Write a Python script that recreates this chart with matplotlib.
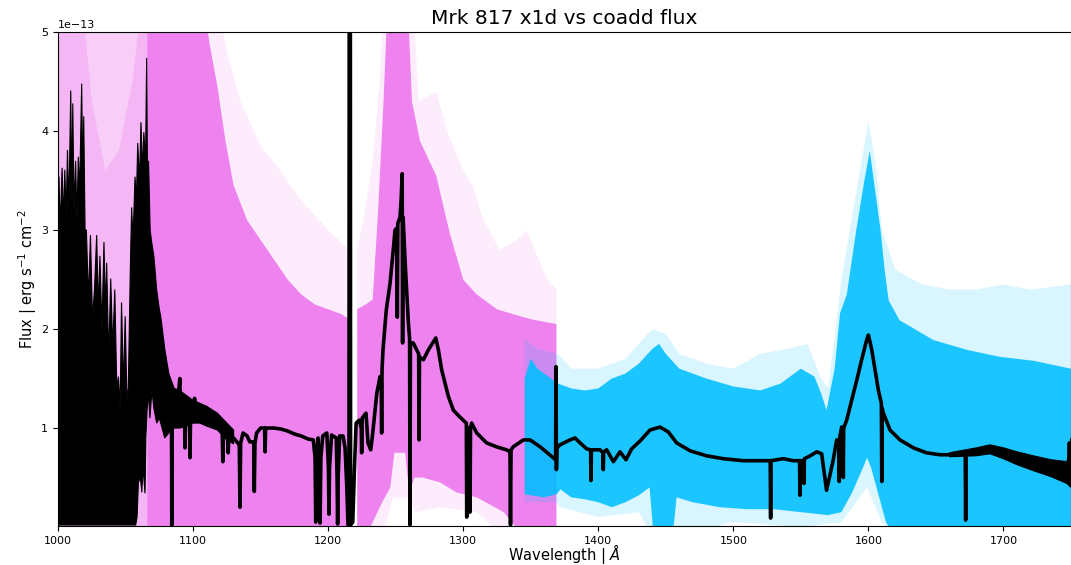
import matplotlib
matplotlib.use("Agg")
import matplotlib.pyplot as plt
import numpy as np

# flux values are in units of 1e-13 erg/s/cm2/A, wavelengths in Angstrom
SCALE = 1e-13

# light pink part of the x1d spectra (blue end)
pink_wl_up = [1000, 1018, 1025, 1035, 1045, 1055, 1062, 1066]
pink_up = [5.3, 5.3, 4.3, 3.6, 3.8, 4.5, 5.3, 5.3]

# G130M x1d spectra: faint envelope and dense envelope, left of Lya gap
vf1_wl_up = [1066, 1118, 1125, 1135, 1150, 1162, 1180, 1200, 1215.5]
vf1_up = [5.3, 5.3, 4.8, 4.3, 3.85, 3.65, 3.3, 3.0, 2.8]
vd1_wl_up = [1066, 1108, 1112, 1118, 1124, 1130, 1140, 1150, 1160, 1170, 1180, 1190, 1200, 1210, 1215.5]
vd1_up = [5.3, 5.3, 4.9, 4.45, 3.9, 3.45, 3.1, 2.9, 2.7, 2.5, 2.35, 2.25, 2.2, 2.15, 2.1]

# right of Lya gap
vf2_wl_up = [1221.5, 1226, 1233, 1238, 1241, 1263, 1267, 1280, 1288, 1300, 1307, 1315, 1327, 1340, 1347, 1362, 1369]
vf2_up = [2.8, 3.1, 3.7, 4.5, 5.3, 5.3, 4.3, 4.4, 4.0, 3.6, 3.45, 3.1, 2.8, 2.9, 3.0, 2.5, 2.4]
vf2_wl_lo = [1221.5, 1240, 1248, 1258, 1265, 1283, 1310, 1330, 1369]
vf2_lo = [-0.1, -0.1, 0.3, 0.3, 0.15, 0.2, 0.15, -0.1, -0.1]
vd2_wl_up = [1221.5, 1228, 1233, 1237, 1241, 1244, 1259, 1262, 1268, 1280, 1290, 1300, 1310, 1325, 1337, 1350, 1369]
vd2_up = [2.2, 2.25, 2.3, 3.2, 4.3, 5.3, 5.3, 4.3, 3.9, 3.55, 2.97, 2.5, 2.35, 2.2, 2.15, 2.1, 2.05]
vd2_wl_lo = [1221.5, 1228, 1233, 1240, 1246, 1249, 1257, 1260, 1264, 1270, 1283, 1295, 1310, 1330, 1345, 1369]
vd2_lo = [-0.1, -0.1, 0.05, 0.25, 0.4, 0.75, 0.75, 0.35, 0.5, 0.5, 0.45, 0.35, 0.3, 0.15, -0.1, -0.1]

# G160M x1d spectra
cf_wl_up = [1345.5, 1355, 1370, 1380, 1400, 1420, 1440, 1450, 1460, 1480, 1500, 1520, 1540, 1555, 1565,
            1570, 1575, 1580, 1590, 1600, 1605, 1610, 1620, 1640, 1660, 1680, 1700, 1720, 1750]
cf_up = [1.9, 1.8, 1.75, 1.6, 1.6, 1.7, 2.0, 1.95, 1.75, 1.65, 1.6, 1.75, 1.8, 1.85, 1.5,
         1.4, 1.9, 2.5, 3.3, 4.1, 3.7, 3.0, 2.6, 2.45, 2.4, 2.4, 2.45, 2.4, 2.45]
cf_wl_lo = [1345.5, 1369, 1372, 1400, 1430, 1440, 1458, 1500, 1550, 1580, 1599, 1610, 1620, 1750]
cf_lo = [0.25, 0.25, 0.2, 0.1, 0.15, -0.1, -0.1, 0.05, 0.0, 0.05, 0.4, 0.05, -0.1, -0.1]
cd_wl_up = [1345.5, 1350, 1355, 1360, 1370, 1380, 1390, 1400, 1410, 1420, 1430, 1440, 1445, 1450, 1460,
            1470, 1480, 1500, 1520, 1535, 1550, 1560, 1565, 1569, 1575, 1579, 1584, 1591, 1597, 1601,
            1605, 1609, 1612, 1615, 1623, 1648, 1673, 1697, 1722, 1750]
cd_up = [1.5, 1.7, 1.6, 1.55, 1.45, 1.4, 1.38, 1.4, 1.5, 1.55, 1.65, 1.8, 1.85, 1.75, 1.6,
         1.55, 1.5, 1.42, 1.38, 1.45, 1.6, 1.52, 1.35, 1.18, 1.6, 2.16, 2.35, 3.0, 3.5, 3.8,
         3.4, 3.0, 2.6, 2.29, 2.09, 1.89, 1.79, 1.72, 1.68, 1.6]
cd_wl_lo = [1345.5, 1360, 1369, 1372, 1380, 1390, 1400, 1410, 1420, 1430, 1438, 1441, 1455, 1458, 1470,
            1490, 1510, 1530, 1550, 1570, 1580, 1588, 1596, 1599, 1602, 1608, 1613, 1620, 1750]
cd_lo = [0.33, 0.3, 0.33, 0.38, 0.3, 0.28, 0.25, 0.2, 0.25, 0.32, 0.4, -0.1, -0.1, 0.3, 0.25,
         0.2, 0.18, 0.18, 0.15, 0.12, 0.15, 0.35, 0.6, 0.7, 0.6, 0.3, 0.05, -0.1, -0.1]

# coadd: noisy blue end drawn as a band
noise_wl_hi = [1000, 1000.7, 1001.5, 1003, 1004, 1005, 1006, 1007, 1008, 1009.4, 1010.2, 1010.9, 1011.8,
               1013, 1014, 1015, 1016, 1017.5, 1018.3, 1019, 1020, 1021, 1022.5, 1024, 1025.5, 1027,
               1028.6, 1029.8, 1031, 1032.5, 1034, 1035, 1036, 1037.5, 1039, 1040.5, 1042, 1043.5,
               1044.7, 1046, 1047, 1048.5, 1049.7, 1051, 1052, 1053.5, 1054.5, 1055.5, 1057, 1058,
               1059, 1060.3, 1061.4, 1062.5, 1063.5, 1064.8, 1065.6, 1066.3, 1067, 1068.2, 1069.3,
               1071, 1073, 1075, 1076, 1079, 1082, 1086, 1090, 1095, 1100, 1105, 1110, 1118, 1125, 1130]
noise_hi = [3.1, 3.54, 3.0, 3.63, 3.1, 3.61, 3.15, 3.81, 3.2, 4.41, 3.3, 4.28, 3.2,
            3.7, 3.1, 3.74, 3.4, 4.48, 3.5, 4.15, 3.0, 3.0, 2.3, 2.95, 2.1, 2.4,
            2.95, 2.2, 2.74, 2.0, 2.88, 2.2, 2.67, 1.7, 2.51, 1.8, 2.4, 1.4,
            1.52, 1.2, 2.27, 1.4, 2.13, 1.3, 1.4, 2.6, 3.23, 2.9, 3.54, 3.3,
            3.88, 3.5, 4.09, 3.6, 3.99, 3.7, 4.74, 3.4, 3.7, 3.0, 2.88,
            2.73, 2.4, 2.2, 2.13, 1.8, 1.55, 1.4, 1.38, 1.33, 1.28, 1.25, 1.22, 1.15, 1.05, 0.98]
noise_wl_lo = [1000, 1057.5, 1058.5, 1059.5, 1061, 1062, 1063, 1064.4, 1065, 1066, 1067, 1068, 1069.5,
               1071, 1073, 1075, 1077, 1079, 1082, 1086, 1090, 1095, 1100, 1105, 1110, 1118, 1125, 1130]
noise_lo = [0.02, 0.02, 0.1, 0.45, 0.5, 0.35, 0.6, 0.34, 0.9, 1.2, 1.35, 1.1, 1.38,
            1.2, 1.05, 1.1, 1.0, 0.9, 0.95, 1.0, 1.0, 1.02, 1.05, 1.05, 1.02, 0.98, 0.88, 0.84]

# coadd: noisier red end
red_wl = [1660, 1680, 1690, 1700, 1710, 1722, 1735, 1747, 1750]
red_hi = [0.75, 0.8, 0.83, 0.8, 0.76, 0.72, 0.68, 0.66, 0.9]
red_lo = [0.71, 0.72, 0.74, 0.69, 0.63, 0.57, 0.51, 0.44, 0.4]

# coadd line
coadd_wl = [1082, 1084.0, 1084.2, 1084.6, 1088, 1090.2, 1090.6, 1093.6, 1094, 1094.4, 1097.3, 1097.7, 1098.1,
            1100.8, 1101.1, 1101.4, 1105, 1110, 1115, 1121.5, 1122, 1122.5, 1125.6, 1126, 1126.5, 1130,
            1134.2, 1134.7, 1135.2, 1137, 1140, 1142, 1144.9, 1145.3, 1145.8, 1147, 1150, 1152.9, 1153.3,
            1153.7, 1160, 1165, 1170, 1175, 1180, 1185, 1189, 1190.3, 1190.8, 1191.3, 1192.5, 1193.5,
            1194, 1194.6, 1196, 1199, 1200.2, 1200.6, 1201, 1202.5, 1206, 1206.6, 1207, 1207.4, 1208.5,
            1211, 1212.5, 1213.8, 1214.7, 1215.4, 1215.6, 1216.4, 1216.6, 1218.2, 1219.5, 1220.7, 1223,
            1224.5, 1224.8, 1225.2, 1228, 1229.5, 1231.5, 1233, 1236, 1238.4, 1239.3, 1239.6, 1239.9,
            1240.6, 1243, 1245.8, 1248.2, 1249.5, 1250.8, 1251.2, 1251.6, 1253.2, 1254, 1254.8, 1255.1,
            1255.5, 1256.9, 1259.4, 1260.3, 1260.6, 1260.9, 1263, 1265.5, 1267, 1267.3, 1267.6, 1270.5,
            1274.2, 1277.9, 1279.7, 1281.6, 1284, 1286.6, 1289, 1292.7, 1297.6, 1302.3, 1302.6, 1302.9,
            1304.6, 1305, 1305.4, 1306.2, 1310, 1317.3, 1324.7, 1332, 1334.6, 1335, 1335.4, 1337, 1344.5,
            1349.5, 1357, 1364, 1368.4, 1368.7, 1369.0, 1369.4, 1371.6, 1379, 1382.8, 1386.5, 1391.4,
            1394.3, 1394.6, 1394.9, 1401.3, 1403.4, 1403.7, 1404, 1406.2, 1411.2, 1416.1, 1420.5, 1424.7,
            1431, 1438.3, 1445.7, 1451.9, 1458, 1468, 1480, 1492.6, 1507.4, 1522.2, 1527.3, 1527.6,
            1527.9, 1537, 1544.4, 1549, 1549.3, 1549.6, 1552, 1552.3, 1552.6, 1557, 1561.7, 1565.4, 1569,
            1574, 1576.5, 1578.1, 1578.4, 1578.7, 1580.2, 1581.1, 1581.4, 1581.7, 1583.9, 1587.6, 1591.3,
            1595, 1598.7, 1600, 1602.5, 1604.9, 1607.4, 1609.6, 1609.9, 1610.2, 1611.1, 1616, 1623.4,
            1633.3, 1643, 1653, 1665, 1671.7, 1672, 1672.3, 1673.8, 1682.5, 1691.2, 1697, 1709.8, 1722,
            1734.5, 1746.8, 1748.5, 1748.8, 1749.2, 1750]
coadd_flux = [1.2, 1.15, 0.02, 1.12, 1.2, 1.5, 1.15, 1.12, 0.8, 1.12, 1.12, 0.7, 1.12,
              1.15, 1.3, 1.15, 1.16, 1.12, 1.08, 1.0, 0.66, 0.98, 0.92, 0.75, 0.93, 0.9,
              0.83, 0.2, 0.85, 0.95, 0.92, 0.86, 0.86, 0.36, 0.85, 0.95, 1.0, 1.0, 0.76,
              1.0, 1.0, 0.99, 0.97, 0.94, 0.92, 0.89, 0.88, 0.7, 0.05, 0.7, 0.9, 0.6,
              0.04, 0.7, 0.92, 0.95, 0.6, 0.13, 0.6, 0.93, 0.9, 0.5, 0.03, 0.5, 0.92,
              0.92, 0.8, 0.4, 0.02, 0.02, 6.0, 6.0, 0.02, 0.05, 0.6, 1.05, 1.08,
              1.0, 0.75, 1.1, 1.15, 0.85, 0.78, 0.95, 1.35, 1.52, 1.45, 0.95, 1.6,
              1.79, 2.19, 2.46, 2.8, 3.0, 3.02, 2.12, 3.07, 3.13, 3.3, 3.57, 1.86,
              3.13, 2.7, 2.06, 1.9, 0.02, 1.86, 1.86, 1.79, 1.75, 0.88, 1.72, 1.69,
              1.79, 1.87, 1.91, 1.79, 1.59, 1.45, 1.32, 1.18, 1.11, 1.05, 0.1, 1.0,
              1.0, 0.15, 1.0, 1.05, 0.95, 0.85, 0.81, 0.78, 0.76, 0.02, 0.78, 0.81, 0.88,
              0.88, 0.81, 0.73, 0.68, 1.62, 0.58, 0.8, 0.83, 0.88, 0.9, 0.85, 0.79,
              0.78, 0.47, 0.78, 0.78, 0.75, 0.58, 0.76, 0.78, 0.66, 0.76, 0.68, 0.79,
              0.87, 0.98, 1.01, 0.96, 0.85, 0.77, 0.72, 0.69, 0.67, 0.67, 0.67, 0.09,
              0.67, 0.69, 0.67, 0.67, 0.32, 0.67, 0.67, 0.44, 0.69, 0.72, 0.76, 0.74, 0.37,
              0.68, 0.88, 0.85, 0.46, 0.9, 1.01, 0.95, 0.5, 1.0, 1.08, 1.28, 1.48,
              1.69, 1.89, 1.94, 1.79, 1.59, 1.38, 1.25, 0.46, 1.2, 1.15, 0.98, 0.88,
              0.8, 0.75, 0.73, 0.73, 0.73, 0.07, 0.73, 0.75, 0.77, 0.8, 0.74, 0.68, 0.65,
              0.6, 0.54, 0.5, 0.85, 0.45, 0.6]


def band(ax, wl_up, up, wl_lo, lo, **kw):
    xs = np.concatenate([wl_up, wl_lo[::-1]])
    ys = np.concatenate([up, lo[::-1]]) * SCALE
    ax.fill(xs, ys, **kw)


fig = plt.figure(figsize=(10.71, 5.65), dpi=100)
ax = fig.add_axes([0.0542, 0.069, 0.9458, 0.874])

floor = [-0.1, -0.1]
band(ax, np.array([1000, 1066]), np.array([5.3, 5.3]), np.array([1000, 1066]), np.array(floor),
     color="violet", alpha=0.4, lw=0)
band(ax, np.array(pink_wl_up), np.array(pink_up), np.array([1000, 1066]), np.array(floor),
     color="violet", alpha=0.3, lw=0)
band(ax, np.array(vf1_wl_up), np.array(vf1_up), np.array([1066, 1215.5]), np.array(floor),
     color="violet", alpha=0.15, lw=0)
band(ax, np.array(vd1_wl_up), np.array(vd1_up), np.array([1066, 1215.5]), np.array(floor),
     color="violet", lw=0)
band(ax, np.array(vf2_wl_up), np.array(vf2_up), np.array(vf2_wl_lo), np.array(vf2_lo),
     color="violet", alpha=0.15, lw=0)
band(ax, np.array(vd2_wl_up), np.array(vd2_up), np.array(vd2_wl_lo), np.array(vd2_lo),
     color="violet", lw=0)
band(ax, np.array(cf_wl_up), np.array(cf_up), np.array(cf_wl_lo), np.array(cf_lo),
     color="deepskyblue", alpha=0.15, lw=0)
band(ax, np.array(cd_wl_up), np.array(cd_up), np.array(cd_wl_lo), np.array(cd_lo),
     color="deepskyblue", alpha=0.88, lw=0)

band(ax, np.array(noise_wl_hi), np.array(noise_hi), np.array(noise_wl_lo), np.array(noise_lo),
     color="black", lw=0.8)
band(ax, np.array(red_wl), np.array(red_hi), np.array(red_wl), np.array(red_lo),
     color="black", lw=0.8)
ax.plot(coadd_wl, np.array(coadd_flux) * SCALE, color="black", lw=2.6)

ax.set_xlim(1000, 1750)
ax.set_ylim(0.01 * SCALE, 5 * SCALE)
ax.set_xticks(np.arange(1000, 1701, 100))
ax.tick_params(labelsize=8)
ax.yaxis.get_offset_text().set_fontsize(8)
ax.set_title("Mrk 817 x1d vs coadd flux", fontsize=14.5)
ax.set_xlabel(r"Wavelength | $\AA$", fontsize=10.5)
ax.set_ylabel(r"Flux | erg s$^{-1}$ cm$^{-2}$", fontsize=10.5)
ax.xaxis.set_label_coords(0.5, -0.033)
ax.yaxis.set_label_coords(-0.019, 0.5)

fig.savefig("out.png", dpi=100)
